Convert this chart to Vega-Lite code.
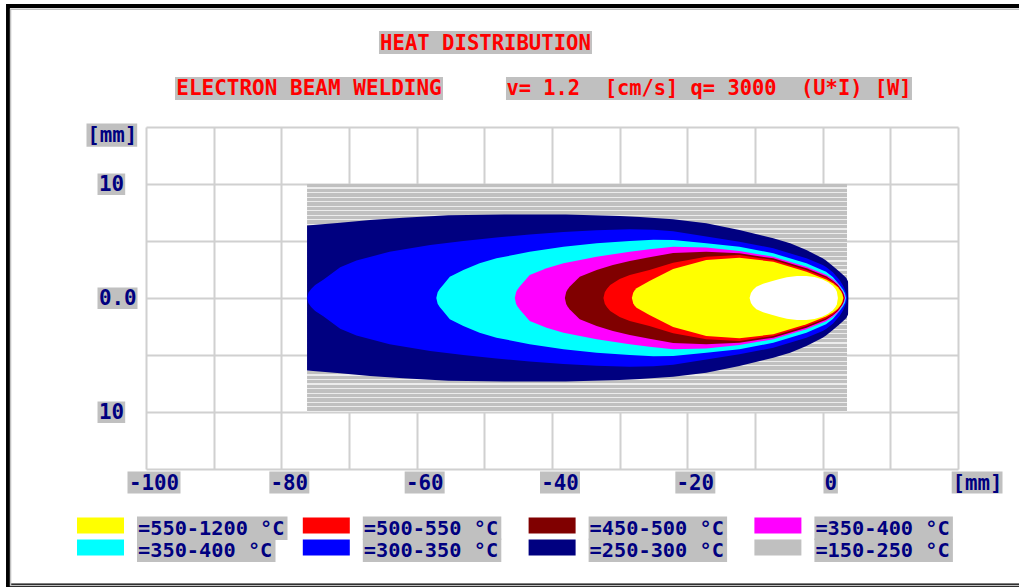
{
"$schema":"https://vega.github.io/schema/vega-lite/v6.json",
"width":812,"height":342,
"autosize":{"type":"none"},
"padding":{"left":146,"top":127,"right":61,"bottom":118},
"background":"#ffffff",
"config":{"view":{"stroke":null},"axis":{"grid":true,"labels":false,"ticks":false,"domain":false,"gridColor":"#d0d0d0","gridWidth":2}},
"datasets":{
"region":[{"x0":-76.2,"x1":3.6,"lo":-10,"hi":10}],
"contours":[
{"level":7,"x":-76.2,"lo":-6.35,"hi":6.35},{"level":7,"x":-71.3,"lo":-6.6,"hi":6.6},{"level":7,"x":-66.9,"lo":-6.85,"hi":6.85},{"level":7,"x":-62,"lo":-7.05,"hi":7.05},{"level":7,"x":-55.3,"lo":-7.25,"hi":7.25},{"level":7,"x":-47,"lo":-7.33,"hi":7.33},{"level":7,"x":-38,"lo":-7.32,"hi":7.32},{"level":7,"x":-30,"lo":-7.2,"hi":7.2},{"level":7,"x":-27,"lo":-7.1,"hi":7.1},{"level":7,"x":-22.1,"lo":-6.9,"hi":6.9},{"level":7,"x":-17.2,"lo":-6.55,"hi":6.55},{"level":7,"x":-12.3,"lo":-5.96,"hi":5.96},{"level":7,"x":-7.3,"lo":-5.24,"hi":5.24},{"level":7,"x":-4.8,"lo":-4.8,"hi":4.8},{"level":7,"x":-2.4,"lo":-4.21,"hi":4.21},{"level":7,"x":0,"lo":-3.48,"hi":3.48},{"level":7,"x":0.5,"lo":-3.3,"hi":3.3},{"level":7,"x":1.5,"lo":-2.8,"hi":2.8},{"level":7,"x":2.5,"lo":-2.31,"hi":2.31},{"level":7,"x":3,"lo":-2.05,"hi":2.05},{"level":7,"x":3.5,"lo":-1.75,"hi":1.75},{"level":7,"x":3.75,"lo":-1.45,"hi":1.45},{"level":7,"x":3.8,"lo":0,"hi":0},
{"level":6,"x":-76.2,"lo":0,"hi":0},{"level":6,"x":-76,"lo":-0.46,"hi":0.46},{"level":6,"x":-75.6,"lo":-0.8,"hi":0.8},{"level":6,"x":-75,"lo":-1.13,"hi":1.13},{"level":6,"x":-73.8,"lo":-1.6,"hi":1.6},{"level":6,"x":-71.3,"lo":-2.7,"hi":2.7},{"level":6,"x":-68.9,"lo":-3.3,"hi":3.3},{"level":6,"x":-64,"lo":-4.05,"hi":4.05},{"level":6,"x":-58,"lo":-4.65,"hi":4.65},{"level":6,"x":-53.1,"lo":-5,"hi":5},{"level":6,"x":-48.2,"lo":-5.3,"hi":5.3},{"level":6,"x":-43.3,"lo":-5.58,"hi":5.58},{"level":6,"x":-38.3,"lo":-5.8,"hi":5.8},{"level":6,"x":-33.4,"lo":-5.95,"hi":5.95},{"level":6,"x":-28.5,"lo":-6.02,"hi":6.02},{"level":6,"x":-25,"lo":-5.98,"hi":5.98},{"level":6,"x":-22.1,"lo":-5.85,"hi":5.85},{"level":6,"x":-17.2,"lo":-5.4,"hi":5.4},{"level":6,"x":-12.3,"lo":-4.94,"hi":4.94},{"level":6,"x":-7.3,"lo":-4.36,"hi":4.36},{"level":6,"x":-2.4,"lo":-3.48,"hi":3.48},{"level":6,"x":0,"lo":-2.89,"hi":2.89},{"level":6,"x":0.5,"lo":-2.72,"hi":2.72},{"level":6,"x":1.5,"lo":-2.25,"hi":2.25},{"level":6,"x":2.5,"lo":-1.58,"hi":1.58},{"level":6,"x":3,"lo":-1.1,"hi":1.1},{"level":6,"x":3.3,"lo":-0.7,"hi":0.7},{"level":6,"x":3.5,"lo":-0.4,"hi":0.4},{"level":6,"x":3.6,"lo":0,"hi":0},
{"level":5,"x":-57.1,"lo":0,"hi":0},{"level":5,"x":-56.9,"lo":-0.51,"hi":0.51},{"level":5,"x":-56.6,"lo":-0.8,"hi":0.8},{"level":5,"x":-56.1,"lo":-1.14,"hi":1.14},{"level":5,"x":-55.1,"lo":-1.87,"hi":1.87},{"level":5,"x":-53.1,"lo":-2.46,"hi":2.46},{"level":5,"x":-50.7,"lo":-3.04,"hi":3.04},{"level":5,"x":-48.2,"lo":-3.48,"hi":3.48},{"level":5,"x":-43.3,"lo":-4.06,"hi":4.06},{"level":5,"x":-38.3,"lo":-4.5,"hi":4.5},{"level":5,"x":-33.4,"lo":-4.8,"hi":4.8},{"level":5,"x":-28.5,"lo":-5,"hi":5},{"level":5,"x":-25,"lo":-5.1,"hi":5.1},{"level":5,"x":-22.1,"lo":-5.08,"hi":5.08},{"level":5,"x":-17.2,"lo":-4.8,"hi":4.8},{"level":5,"x":-12.3,"lo":-4.5,"hi":4.5},{"level":5,"x":-7.3,"lo":-3.92,"hi":3.92},{"level":5,"x":-2.4,"lo":-3.04,"hi":3.04},{"level":5,"x":0.5,"lo":-2.31,"hi":2.31},{"level":5,"x":1.5,"lo":-1.85,"hi":1.85},{"level":5,"x":2.5,"lo":-1.14,"hi":1.14},{"level":5,"x":3,"lo":-0.75,"hi":0.75},{"level":5,"x":3.3,"lo":-0.42,"hi":0.42},{"level":5,"x":3.45,"lo":0,"hi":0},
{"level":4,"x":-45.5,"lo":0,"hi":0},{"level":4,"x":-45.3,"lo":-0.53,"hi":0.53},{"level":4,"x":-45.1,"lo":-0.75,"hi":0.75},{"level":4,"x":-44.8,"lo":-0.99,"hi":0.99},{"level":4,"x":-43.3,"lo":-2.02,"hi":2.02},{"level":4,"x":-40.8,"lo":-2.6,"hi":2.6},{"level":4,"x":-38.3,"lo":-3.04,"hi":3.04},{"level":4,"x":-33.4,"lo":-3.62,"hi":3.62},{"level":4,"x":-28.5,"lo":-4.06,"hi":4.06},{"level":4,"x":-25.6,"lo":-4.27,"hi":4.27},{"level":4,"x":-22.1,"lo":-4.5,"hi":4.5},{"level":4,"x":-17.2,"lo":-4.42,"hi":4.42},{"level":4,"x":-12.3,"lo":-4.12,"hi":4.12},{"level":4,"x":-7.3,"lo":-3.62,"hi":3.62},{"level":4,"x":-2.4,"lo":-2.75,"hi":2.75},{"level":4,"x":0.5,"lo":-2.05,"hi":2.05},{"level":4,"x":1.5,"lo":-1.65,"hi":1.65},{"level":4,"x":2.25,"lo":-1.25,"hi":1.25},{"level":4,"x":3,"lo":-0.6,"hi":0.6},{"level":4,"x":3.2,"lo":-0.35,"hi":0.35},{"level":4,"x":3.35,"lo":0,"hi":0},
{"level":3,"x":-38.1,"lo":0,"hi":0},{"level":3,"x":-37.9,"lo":-0.53,"hi":0.53},{"level":3,"x":-37.7,"lo":-0.75,"hi":0.75},{"level":3,"x":-37.4,"lo":-0.99,"hi":0.99},{"level":3,"x":-35.9,"lo":-1.87,"hi":1.87},{"level":3,"x":-33.4,"lo":-2.46,"hi":2.46},{"level":3,"x":-31,"lo":-2.89,"hi":2.89},{"level":3,"x":-28.5,"lo":-3.25,"hi":3.25},{"level":3,"x":-25.6,"lo":-3.57,"hi":3.57},{"level":3,"x":-22.1,"lo":-3.95,"hi":3.95},{"level":3,"x":-17.2,"lo":-4.06,"hi":4.06},{"level":3,"x":-12.3,"lo":-3.92,"hi":3.92},{"level":3,"x":-7.3,"lo":-3.48,"hi":3.48},{"level":3,"x":-2.4,"lo":-2.6,"hi":2.6},{"level":3,"x":0.5,"lo":-1.9,"hi":1.9},{"level":3,"x":1.5,"lo":-1.52,"hi":1.52},{"level":3,"x":2.25,"lo":-1.14,"hi":1.14},{"level":3,"x":2.9,"lo":-0.6,"hi":0.6},{"level":3,"x":3.1,"lo":-0.35,"hi":0.35},{"level":3,"x":3.25,"lo":0,"hi":0},
{"level":2,"x":-32.4,"lo":0,"hi":0},{"level":2,"x":-32.2,"lo":-0.51,"hi":0.51},{"level":2,"x":-31.9,"lo":-0.8,"hi":0.8},{"level":2,"x":-31.4,"lo":-1.14,"hi":1.14},{"level":2,"x":-30,"lo":-1.67,"hi":1.67},{"level":2,"x":-28.5,"lo":-2.02,"hi":2.02},{"level":2,"x":-25.6,"lo":-2.46,"hi":2.46},{"level":2,"x":-22.1,"lo":-3.1,"hi":3.1},{"level":2,"x":-17.2,"lo":-3.62,"hi":3.62},{"level":2,"x":-12.3,"lo":-3.77,"hi":3.77},{"level":2,"x":-7.3,"lo":-3.33,"hi":3.33},{"level":2,"x":-2.4,"lo":-2.46,"hi":2.46},{"level":2,"x":0.5,"lo":-1.78,"hi":1.78},{"level":2,"x":1.5,"lo":-1.42,"hi":1.42},{"level":2,"x":2.25,"lo":-1.05,"hi":1.05},{"level":2,"x":2.8,"lo":-0.6,"hi":0.6},{"level":2,"x":3,"lo":-0.35,"hi":0.35},{"level":2,"x":3.15,"lo":0,"hi":0},
{"level":1,"x":-28.2,"lo":0,"hi":0},{"level":1,"x":-28,"lo":-0.46,"hi":0.46},{"level":1,"x":-27.8,"lo":-0.65,"hi":0.65},{"level":1,"x":-27.5,"lo":-0.85,"hi":0.85},{"level":1,"x":-25.6,"lo":-1.5,"hi":1.5},{"level":1,"x":-22.1,"lo":-2.55,"hi":2.55},{"level":1,"x":-17.2,"lo":-3.33,"hi":3.33},{"level":1,"x":-12.3,"lo":-3.54,"hi":3.54},{"level":1,"x":-7.3,"lo":-3.18,"hi":3.18},{"level":1,"x":-2.4,"lo":-2.31,"hi":2.31},{"level":1,"x":0.5,"lo":-1.62,"hi":1.62},{"level":1,"x":1.5,"lo":-1.3,"hi":1.3},{"level":1,"x":2.25,"lo":-0.95,"hi":0.95},{"level":1,"x":2.7,"lo":-0.6,"hi":0.6},{"level":1,"x":2.9,"lo":-0.35,"hi":0.35},{"level":1,"x":3.05,"lo":0,"hi":0},
{"level":0,"x":-10.8,"lo":0,"hi":0},{"level":0,"x":-10.6,"lo":-0.44,"hi":0.44},{"level":0,"x":-10.3,"lo":-0.7,"hi":0.7},{"level":0,"x":-9.8,"lo":-0.99,"hi":0.99},{"level":0,"x":-8.8,"lo":-1.25,"hi":1.25},{"level":0,"x":-7.8,"lo":-1.43,"hi":1.43},{"level":0,"x":-6.5,"lo":-1.65,"hi":1.65},{"level":0,"x":-5.3,"lo":-1.82,"hi":1.82},{"level":0,"x":-3.8,"lo":-1.92,"hi":1.92},{"level":0,"x":-2.4,"lo":-1.93,"hi":1.93},{"level":0,"x":-1.2,"lo":-1.85,"hi":1.85},{"level":0,"x":0,"lo":-1.62,"hi":1.62},{"level":0,"x":0.8,"lo":-1.38,"hi":1.38},{"level":0,"x":1.5,"lo":-1.08,"hi":1.08},{"level":0,"x":1.9,"lo":-0.78,"hi":0.78},{"level":0,"x":2.1,"lo":-0.55,"hi":0.55},{"level":0,"x":2.25,"lo":0,"hi":0}
],
"xticks":[{"v":-100,"label":"-100"},{"v":-80,"label":"-80"},{"v":-60,"label":"-60"},{"v":-40,"label":"-40"},{"v":-20,"label":"-20"},{"v":0,"label":"0"}],
"yticks":[{"v":10,"label":"10"},{"v":0,"label":"0.0"},{"v":-10,"label":"10"}],
"legend":[
{"level":1,"label":"=550-1200 °C","col":1,"row":1},{"level":2,"label":"=500-550 °C","col":2,"row":1},{"level":3,"label":"=450-500 °C","col":3,"row":1},{"level":4,"label":"=350-400 °C","col":4,"row":1},
{"level":5,"label":"=350-400 °C","col":1,"row":2},{"level":6,"label":"=300-350 °C","col":2,"row":2},{"level":7,"label":"=250-300 °C","col":3,"row":2},{"level":8,"label":"=150-250 °C","col":4,"row":2}
]
},
"layer":[
{"layer":[
{"data":{"name":"region"},"mark":{"type":"rect","fill":{"gradient":"linear","x1":0,"y1":0,"x2":0,"y2":1,"stops":[
{"offset":0,"color":"#c0c0c0"},{"offset":0.015,"color":"#c0c0c0"},{"offset":0.015,"color":"#ececec"},{"offset":0.02,"color":"#ececec"},
{"offset":0.02,"color":"#c0c0c0"},{"offset":0.035,"color":"#c0c0c0"},{"offset":0.035,"color":"#ececec"},{"offset":0.04,"color":"#ececec"},
{"offset":0.04,"color":"#c0c0c0"},{"offset":0.055,"color":"#c0c0c0"},{"offset":0.055,"color":"#ececec"},{"offset":0.06,"color":"#ececec"},
{"offset":0.06,"color":"#c0c0c0"},{"offset":0.075,"color":"#c0c0c0"},{"offset":0.075,"color":"#ececec"},{"offset":0.08,"color":"#ececec"},
{"offset":0.08,"color":"#c0c0c0"},{"offset":0.095,"color":"#c0c0c0"},{"offset":0.095,"color":"#ececec"},{"offset":0.1,"color":"#ececec"},
{"offset":0.1,"color":"#c0c0c0"},{"offset":0.115,"color":"#c0c0c0"},{"offset":0.115,"color":"#ececec"},{"offset":0.12,"color":"#ececec"},
{"offset":0.12,"color":"#c0c0c0"},{"offset":0.135,"color":"#c0c0c0"},{"offset":0.135,"color":"#ececec"},{"offset":0.14,"color":"#ececec"},
{"offset":0.14,"color":"#c0c0c0"},{"offset":0.155,"color":"#c0c0c0"},{"offset":0.155,"color":"#ececec"},{"offset":0.16,"color":"#ececec"},
{"offset":0.16,"color":"#c0c0c0"},{"offset":0.175,"color":"#c0c0c0"},{"offset":0.175,"color":"#ececec"},{"offset":0.18,"color":"#ececec"},
{"offset":0.18,"color":"#c0c0c0"},{"offset":0.195,"color":"#c0c0c0"},{"offset":0.195,"color":"#ececec"},{"offset":0.2,"color":"#ececec"},
{"offset":0.2,"color":"#c0c0c0"},{"offset":0.215,"color":"#c0c0c0"},{"offset":0.215,"color":"#ececec"},{"offset":0.22,"color":"#ececec"},
{"offset":0.22,"color":"#c0c0c0"},{"offset":0.235,"color":"#c0c0c0"},{"offset":0.235,"color":"#ececec"},{"offset":0.24,"color":"#ececec"},
{"offset":0.24,"color":"#c0c0c0"},{"offset":0.255,"color":"#c0c0c0"},{"offset":0.255,"color":"#ececec"},{"offset":0.26,"color":"#ececec"},
{"offset":0.26,"color":"#c0c0c0"},{"offset":0.275,"color":"#c0c0c0"},{"offset":0.275,"color":"#ececec"},{"offset":0.28,"color":"#ececec"},
{"offset":0.28,"color":"#c0c0c0"},{"offset":0.295,"color":"#c0c0c0"},{"offset":0.295,"color":"#ececec"},{"offset":0.3,"color":"#ececec"},
{"offset":0.3,"color":"#c0c0c0"},{"offset":0.315,"color":"#c0c0c0"},{"offset":0.315,"color":"#ececec"},{"offset":0.32,"color":"#ececec"},
{"offset":0.32,"color":"#c0c0c0"},{"offset":0.335,"color":"#c0c0c0"},{"offset":0.335,"color":"#ececec"},{"offset":0.34,"color":"#ececec"},
{"offset":0.34,"color":"#c0c0c0"},{"offset":0.355,"color":"#c0c0c0"},{"offset":0.355,"color":"#ececec"},{"offset":0.36,"color":"#ececec"},
{"offset":0.36,"color":"#c0c0c0"},{"offset":0.375,"color":"#c0c0c0"},{"offset":0.375,"color":"#ececec"},{"offset":0.38,"color":"#ececec"},
{"offset":0.38,"color":"#c0c0c0"},{"offset":0.395,"color":"#c0c0c0"},{"offset":0.395,"color":"#ececec"},{"offset":0.4,"color":"#ececec"},
{"offset":0.4,"color":"#c0c0c0"},{"offset":0.415,"color":"#c0c0c0"},{"offset":0.415,"color":"#ececec"},{"offset":0.42,"color":"#ececec"},
{"offset":0.42,"color":"#c0c0c0"},{"offset":0.435,"color":"#c0c0c0"},{"offset":0.435,"color":"#ececec"},{"offset":0.44,"color":"#ececec"},
{"offset":0.44,"color":"#c0c0c0"},{"offset":0.455,"color":"#c0c0c0"},{"offset":0.455,"color":"#ececec"},{"offset":0.46,"color":"#ececec"},
{"offset":0.46,"color":"#c0c0c0"},{"offset":0.475,"color":"#c0c0c0"},{"offset":0.475,"color":"#ececec"},{"offset":0.48,"color":"#ececec"},
{"offset":0.48,"color":"#c0c0c0"},{"offset":0.495,"color":"#c0c0c0"},{"offset":0.495,"color":"#ececec"},{"offset":0.5,"color":"#ececec"},
{"offset":0.5,"color":"#c0c0c0"},{"offset":0.515,"color":"#c0c0c0"},{"offset":0.515,"color":"#ececec"},{"offset":0.52,"color":"#ececec"},
{"offset":0.52,"color":"#c0c0c0"},{"offset":0.535,"color":"#c0c0c0"},{"offset":0.535,"color":"#ececec"},{"offset":0.54,"color":"#ececec"},
{"offset":0.54,"color":"#c0c0c0"},{"offset":0.555,"color":"#c0c0c0"},{"offset":0.555,"color":"#ececec"},{"offset":0.56,"color":"#ececec"},
{"offset":0.56,"color":"#c0c0c0"},{"offset":0.575,"color":"#c0c0c0"},{"offset":0.575,"color":"#ececec"},{"offset":0.58,"color":"#ececec"},
{"offset":0.58,"color":"#c0c0c0"},{"offset":0.595,"color":"#c0c0c0"},{"offset":0.595,"color":"#ececec"},{"offset":0.6,"color":"#ececec"},
{"offset":0.6,"color":"#c0c0c0"},{"offset":0.615,"color":"#c0c0c0"},{"offset":0.615,"color":"#ececec"},{"offset":0.62,"color":"#ececec"},
{"offset":0.62,"color":"#c0c0c0"},{"offset":0.635,"color":"#c0c0c0"},{"offset":0.635,"color":"#ececec"},{"offset":0.64,"color":"#ececec"},
{"offset":0.64,"color":"#c0c0c0"},{"offset":0.655,"color":"#c0c0c0"},{"offset":0.655,"color":"#ececec"},{"offset":0.66,"color":"#ececec"},
{"offset":0.66,"color":"#c0c0c0"},{"offset":0.675,"color":"#c0c0c0"},{"offset":0.675,"color":"#ececec"},{"offset":0.68,"color":"#ececec"},
{"offset":0.68,"color":"#c0c0c0"},{"offset":0.695,"color":"#c0c0c0"},{"offset":0.695,"color":"#ececec"},{"offset":0.7,"color":"#ececec"},
{"offset":0.7,"color":"#c0c0c0"},{"offset":0.715,"color":"#c0c0c0"},{"offset":0.715,"color":"#ececec"},{"offset":0.72,"color":"#ececec"},
{"offset":0.72,"color":"#c0c0c0"},{"offset":0.735,"color":"#c0c0c0"},{"offset":0.735,"color":"#ececec"},{"offset":0.74,"color":"#ececec"},
{"offset":0.74,"color":"#c0c0c0"},{"offset":0.755,"color":"#c0c0c0"},{"offset":0.755,"color":"#ececec"},{"offset":0.76,"color":"#ececec"},
{"offset":0.76,"color":"#c0c0c0"},{"offset":0.775,"color":"#c0c0c0"},{"offset":0.775,"color":"#ececec"},{"offset":0.78,"color":"#ececec"},
{"offset":0.78,"color":"#c0c0c0"},{"offset":0.795,"color":"#c0c0c0"},{"offset":0.795,"color":"#ececec"},{"offset":0.8,"color":"#ececec"},
{"offset":0.8,"color":"#c0c0c0"},{"offset":0.815,"color":"#c0c0c0"},{"offset":0.815,"color":"#ececec"},{"offset":0.82,"color":"#ececec"},
{"offset":0.82,"color":"#c0c0c0"},{"offset":0.835,"color":"#c0c0c0"},{"offset":0.835,"color":"#ececec"},{"offset":0.84,"color":"#ececec"},
{"offset":0.84,"color":"#c0c0c0"},{"offset":0.855,"color":"#c0c0c0"},{"offset":0.855,"color":"#ececec"},{"offset":0.86,"color":"#ececec"},
{"offset":0.86,"color":"#c0c0c0"},{"offset":0.875,"color":"#c0c0c0"},{"offset":0.875,"color":"#ececec"},{"offset":0.88,"color":"#ececec"},
{"offset":0.88,"color":"#c0c0c0"},{"offset":0.895,"color":"#c0c0c0"},{"offset":0.895,"color":"#ececec"},{"offset":0.9,"color":"#ececec"},
{"offset":0.9,"color":"#c0c0c0"},{"offset":0.915,"color":"#c0c0c0"},{"offset":0.915,"color":"#ececec"},{"offset":0.92,"color":"#ececec"},
{"offset":0.92,"color":"#c0c0c0"},{"offset":0.935,"color":"#c0c0c0"},{"offset":0.935,"color":"#ececec"},{"offset":0.94,"color":"#ececec"},
{"offset":0.94,"color":"#c0c0c0"},{"offset":0.955,"color":"#c0c0c0"},{"offset":0.955,"color":"#ececec"},{"offset":0.96,"color":"#ececec"},
{"offset":0.96,"color":"#c0c0c0"},{"offset":0.975,"color":"#c0c0c0"},{"offset":0.975,"color":"#ececec"},{"offset":0.98,"color":"#ececec"},
{"offset":0.98,"color":"#c0c0c0"},{"offset":0.995,"color":"#c0c0c0"},{"offset":0.995,"color":"#ececec"},{"offset":1,"color":"#ececec"}
]}},"encoding":{"x":{"field":"x0","type":"quantitative","scale":{"domain":[-100,20],"nice":false,"zero":false},"axis":{"values":[-100,-90,-80,-70,-60,-50,-40,-30,-20,-10,0,10,20],"title":null,"grid":true,"gridColor":"#d0d0d0","gridWidth":2}},"x2":{"field":"x1"},"y":{"field":"hi","type":"quantitative","scale":{"domain":[-15,15],"nice":false,"zero":false},"axis":{"values":[-15,-10,-5,0,5,10,15],"title":null,"grid":true,"gridColor":"#d0d0d0","gridWidth":2}},"y2":{"field":"lo"}}},
{"data":{"values":[{}]},"mark":{"type":"rect","filled":false,"color":"#000000","strokeWidth":4},"encoding":{"x":{"datum":-120.39},"x2":{"datum":30.64},"y":{"datum":25.61},"y2":{"datum":-25.22}}},
{"data":{"values":[{}]},"mark":{"type":"rect","filled":false,"color":"#c0c0c0","strokeWidth":1.5},"encoding":{"x":{"datum":-120.02},"x2":{"datum":30.64},"y":{"datum":25.33},"y2":{"datum":-25.22}}},
{"data":{"name":"contours"},"transform":[{"filter":"datum.level == 7"}],"mark":{"type":"area"},"encoding":{"x":{"field":"x","type":"quantitative"},"y":{"field":"hi","type":"quantitative"},"y2":{"field":"lo"},"color":{"field":"level","type":"ordinal","scale":{"domain":[0,1,2,3,4,5,6,7,8],"range":["#ffffff","#ffff00","#ff0000","#800000","#ff00ff","#00ffff","#0000ff","#000080","#c0c0c0"]},"legend":null}}},
{"data":{"name":"contours"},"transform":[{"filter":"datum.level == 6"}],"mark":{"type":"area"},"encoding":{"x":{"field":"x","type":"quantitative"},"y":{"field":"hi","type":"quantitative"},"y2":{"field":"lo"},"color":{"field":"level","type":"ordinal","scale":{"domain":[0,1,2,3,4,5,6,7,8],"range":["#ffffff","#ffff00","#ff0000","#800000","#ff00ff","#00ffff","#0000ff","#000080","#c0c0c0"]},"legend":null}}},
{"data":{"name":"contours"},"transform":[{"filter":"datum.level == 5"}],"mark":{"type":"area"},"encoding":{"x":{"field":"x","type":"quantitative"},"y":{"field":"hi","type":"quantitative"},"y2":{"field":"lo"},"color":{"field":"level","type":"ordinal","scale":{"domain":[0,1,2,3,4,5,6,7,8],"range":["#ffffff","#ffff00","#ff0000","#800000","#ff00ff","#00ffff","#0000ff","#000080","#c0c0c0"]},"legend":null}}},
{"data":{"name":"contours"},"transform":[{"filter":"datum.level == 4"}],"mark":{"type":"area"},"encoding":{"x":{"field":"x","type":"quantitative"},"y":{"field":"hi","type":"quantitative"},"y2":{"field":"lo"},"color":{"field":"level","type":"ordinal","scale":{"domain":[0,1,2,3,4,5,6,7,8],"range":["#ffffff","#ffff00","#ff0000","#800000","#ff00ff","#00ffff","#0000ff","#000080","#c0c0c0"]},"legend":null}}},
{"data":{"name":"contours"},"transform":[{"filter":"datum.level == 3"}],"mark":{"type":"area"},"encoding":{"x":{"field":"x","type":"quantitative"},"y":{"field":"hi","type":"quantitative"},"y2":{"field":"lo"},"color":{"field":"level","type":"ordinal","scale":{"domain":[0,1,2,3,4,5,6,7,8],"range":["#ffffff","#ffff00","#ff0000","#800000","#ff00ff","#00ffff","#0000ff","#000080","#c0c0c0"]},"legend":null}}},
{"data":{"name":"contours"},"transform":[{"filter":"datum.level == 2"}],"mark":{"type":"area"},"encoding":{"x":{"field":"x","type":"quantitative"},"y":{"field":"hi","type":"quantitative"},"y2":{"field":"lo"},"color":{"field":"level","type":"ordinal","scale":{"domain":[0,1,2,3,4,5,6,7,8],"range":["#ffffff","#ffff00","#ff0000","#800000","#ff00ff","#00ffff","#0000ff","#000080","#c0c0c0"]},"legend":null}}},
{"data":{"name":"contours"},"transform":[{"filter":"datum.level == 1"}],"mark":{"type":"area"},"encoding":{"x":{"field":"x","type":"quantitative"},"y":{"field":"hi","type":"quantitative"},"y2":{"field":"lo"},"color":{"field":"level","type":"ordinal","scale":{"domain":[0,1,2,3,4,5,6,7,8],"range":["#ffffff","#ffff00","#ff0000","#800000","#ff00ff","#00ffff","#0000ff","#000080","#c0c0c0"]},"legend":null}}},
{"data":{"name":"contours"},"transform":[{"filter":"datum.level == 0"}],"mark":{"type":"area"},"encoding":{"x":{"field":"x","type":"quantitative"},"y":{"field":"hi","type":"quantitative"},"y2":{"field":"lo"},"color":{"field":"level","type":"ordinal","scale":{"domain":[0,1,2,3,4,5,6,7,8],"range":["#ffffff","#ffff00","#ff0000","#800000","#ff00ff","#00ffff","#0000ff","#000080","#c0c0c0"]},"legend":null}}},
{"data":{"name":"xticks"},"mark":{"type":"point","filled":true,"size":4,"opacity":1,"strokeWidth":0,"color":"#c0c0c0"},"encoding":{"x":{"field":"v","type":"quantitative"},"y":{"datum":-15},"shape":{"field":"label","type":"nominal","scale":{"domain":["-100","-80","-60","-40","-20","0"],"range":["M-18.5,2.5H34.5V24.5H-18.5Z","M-12,2.5H28V24.5H-12Z","M-12,2.5H28V24.5H-12Z","M-12,2.5H28V24.5H-12Z","M-12,2.5H28V24.5H-12Z","M0.8,2.5H15.2V24.5H0.8Z"]},"legend":null}}},
{"data":{"name":"xticks"},"mark":{"type":"text","font":"DejaVu Sans Mono","fontWeight":"bold","fontSize":20.8,"color":"#000080","align":"center","baseline":"middle","dx":8,"dy":14.5},"encoding":{"x":{"field":"v","type":"quantitative"},"y":{"datum":-15},"text":{"field":"label"}}},
{"data":{"values":[{}]},"mark":{"type":"point","filled":true,"size":4,"opacity":1,"strokeWidth":0,"color":"#c0c0c0","shape":"M-6.3,2.5H44.5V24.5H-6.3Z"},"encoding":{"x":{"datum":20},"y":{"datum":-15}}},
{"data":{"values":[{}]},"mark":{"type":"text","text":"[mm]","font":"DejaVu Sans Mono","fontWeight":"bold","fontSize":20.8,"color":"#000080","align":"left","baseline":"middle","dx":-5.5,"dy":14.5},"encoding":{"x":{"datum":20},"y":{"datum":-15}}},
{"data":{"name":"yticks"},"mark":{"type":"point","filled":true,"size":4,"opacity":1,"strokeWidth":0,"color":"#c0c0c0"},"encoding":{"x":{"datum":-100},"y":{"field":"v","type":"quantitative"},"shape":{"field":"label","type":"nominal","scale":{"domain":["10","0.0"],"range":["M-48.5,-10.5H-20.8V11H-48.5Z","M-48.5,-10.5H-8.5V11H-48.5Z"]},"legend":null}}},
{"data":{"name":"yticks"},"mark":{"type":"text","font":"DejaVu Sans Mono","fontWeight":"bold","fontSize":20.8,"color":"#000080","align":"left","baseline":"middle","dx":-47,"dy":1},"encoding":{"x":{"datum":-100},"y":{"field":"v","type":"quantitative"},"text":{"field":"label"}}},
{"data":{"values":[{}]},"mark":{"type":"point","filled":true,"size":4,"opacity":1,"strokeWidth":0,"color":"#c0c0c0","shape":"M-59.5,-3.5H-8.8V19.7H-59.5Z"},"encoding":{"x":{"datum":-100},"y":{"datum":15}}},
{"data":{"values":[{}]},"mark":{"type":"text","text":"[mm]","font":"DejaVu Sans Mono","fontWeight":"bold","fontSize":20.8,"color":"#000080","align":"left","baseline":"middle","dx":-58.7,"dy":9.3},"encoding":{"x":{"datum":-100},"y":{"datum":15}}},
{"data":{"values":[{}]},"mark":{"type":"point","filled":true,"size":4,"opacity":1,"strokeWidth":0,"color":"#c0c0c0","shape":"M-106.5,-11.5H106.5V11.5H-106.5Z"},"encoding":{"x":{"datum":-49.83},"y":{"datum":22.41}}},
{"data":{"values":[{}]},"mark":{"type":"text","text":"HEAT DISTRIBUTION","font":"DejaVu Sans Mono","fontWeight":"bold","fontSize":20.6,"color":"#ff0000","align":"center","baseline":"middle","dy":1},"encoding":{"x":{"datum":-49.83},"y":{"datum":22.41}}},
{"data":{"values":[{}]},"mark":{"type":"point","filled":true,"size":4,"opacity":1,"strokeWidth":0,"color":"#c0c0c0","shape":"M-134,-11.5H134V11.5H-134Z"},"encoding":{"x":{"datum":-75.91},"y":{"datum":18.38}}},
{"data":{"values":[{}]},"mark":{"type":"text","text":"ELECTRON BEAM WELDING","font":"DejaVu Sans Mono","fontWeight":"bold","fontSize":21,"color":"#ff0000","align":"center","baseline":"middle","dy":1},"encoding":{"x":{"datum":-75.91},"y":{"datum":18.38}}},
{"data":{"values":[{}]},"mark":{"type":"point","filled":true,"size":4,"opacity":1,"strokeWidth":0,"color":"#c0c0c0","shape":"M-203,-11.5H203V11.5H-203Z"},"encoding":{"x":{"datum":-16.8},"y":{"datum":18.38}}},
{"data":{"values":[{}]},"mark":{"type":"text","text":"v= 1.2\u00a0 [cm/s] q= 3000\u00a0 (U*I) [W]","font":"DejaVu Sans Mono","fontWeight":"bold","fontSize":20.4,"color":"#ff0000","align":"center","baseline":"middle","dy":1},"encoding":{"x":{"datum":-16.8},"y":{"datum":18.38}}}
],
"resolve":{"scale":{"shape":"independent"}}},
{"data":{"name":"legend"},"layer":[
{"mark":{"type":"point","filled":true,"size":4,"opacity":1,"strokeWidth":0,"shape":"M-23.5,-9.5H23.5V6.5H-23.5Z"},"encoding":{"x":{"field":"col","type":"quantitative","scale":{"domain":[1.2015,4.7976],"nice":false,"zero":false},"axis":null},"y":{"field":"row","type":"quantitative","scale":{"domain":[-17.1818,-1.6364],"reverse":true,"nice":false,"zero":false},"axis":null},"color":{"field":"level","type":"ordinal","scale":{"domain":[0,1,2,3,4,5,6,7,8],"range":["#ffffff","#ffff00","#ff0000","#800000","#ff00ff","#00ffff","#0000ff","#000080","#c0c0c0"]},"legend":null}}},
{"mark":{"type":"point","filled":true,"size":4,"opacity":1,"strokeWidth":0,"color":"#c0c0c0"},"encoding":{"x":{"field":"col","type":"quantitative","axis":null},"y":{"field":"row","type":"quantitative","axis":null},"shape":{"field":"label","type":"nominal","scale":{"domain":["=550-1200 °C","=500-550 °C","=450-500 °C","=350-400 °C","=300-350 °C","=250-300 °C","=150-250 °C"],"range":["M36.5,-10.5H187V13H36.5Z","M36.5,-10.5H175V13H36.5Z","M36.5,-10.5H175V13H36.5Z","M36.5,-10.5H175V13H36.5Z","M36.5,-10.5H175V13H36.5Z","M36.5,-10.5H175V13H36.5Z","M36.5,-10.5H175V13H36.5Z"]},"legend":null}}},
{"mark":{"type":"text","font":"DejaVu Sans Mono","fontWeight":"bold","fontSize":20.3,"color":"#000080","align":"left","baseline":"middle","dx":37.5,"dy":1.5},"encoding":{"x":{"field":"col","type":"quantitative","axis":null},"y":{"field":"row","type":"quantitative","axis":null},"text":{"field":"label"}}}
]}
],
"resolve":{"scale":{"x":"independent","y":"independent","shape":"independent"}}
}
